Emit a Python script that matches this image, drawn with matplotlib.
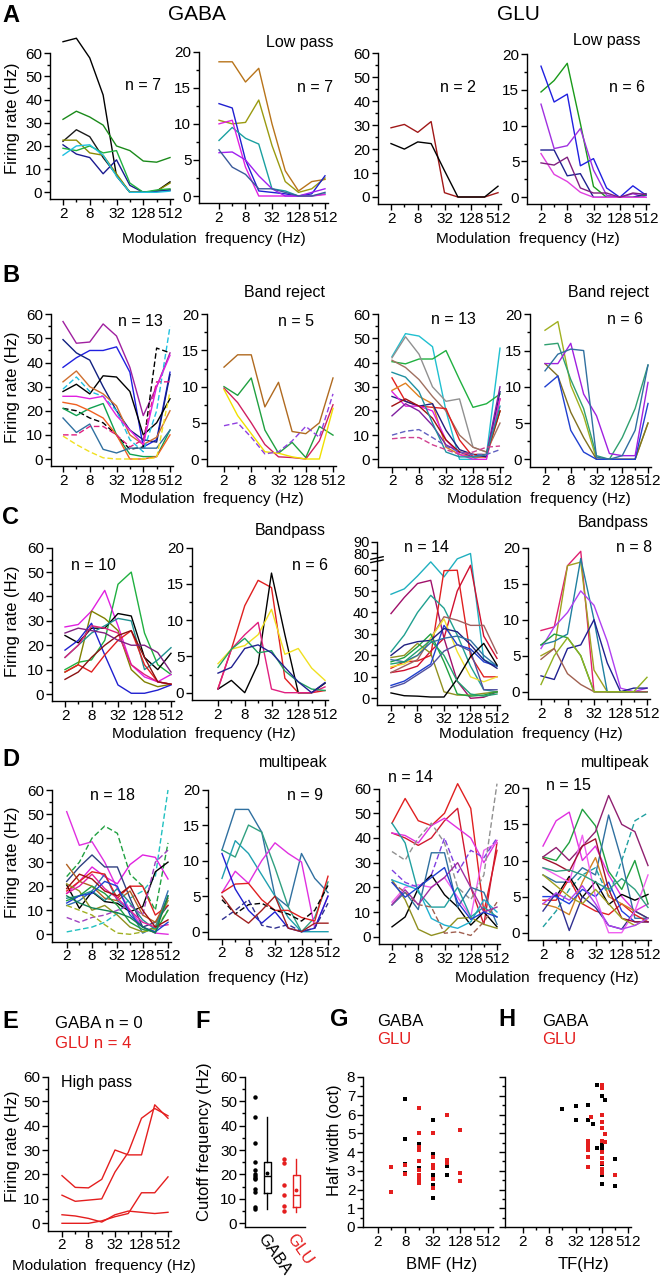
import numpy as np
import matplotlib
matplotlib.use("Agg")
import matplotlib.pyplot as plt
from matplotlib.ticker import FixedLocator, FixedFormatter, NullFormatter
from matplotlib.scale import FuncScale

plt.rcParams['font.family'] = ['Liberation Sans', 'DejaVu Sans']
plt.rcParams['axes.linewidth'] = 1.0

# ---------------- data ----------------
freqs = [2, 4, 8, 16, 32, 64, 128, 256, 512]
major_freqs = [2, 8, 32, 128, 512]
minor_freqs = [4, 16, 64, 256]

# A: low pass
a_gaba_big = [[65, 66.5, 58, 42, 7, 0, 0, 0.5, 4.5],
              [31.5, 35, 32.5, 29, 20, 18, 13.5, 13, 15],
              [22, 27, 24, 15, 7.5, 0, 0, 0.5, 1],
              [22.5, 22.5, 17, 16, 8, 0, 0, 0.5, 4],
              [20.5, 16.5, 15, 8, 14, 3, 0, 0.5, 1],
              [19, 18, 20, 17, 18, 4, 0, 1, 1.5],
              [16, 20, 20.5, 16, 7, 0, 0, 0, 0.5]]
a_gaba_big_col = ['#000000', '#1a8a1a', '#1a1a1a', '#8a8a00', '#1a1a90', '#20b040', '#20c0e0']
a_gaba_small = [[18.6, 18.6, 15.8, 17.7, 10, 3.5, 0.7, 2, 2.3],
                [10.5, 10, 10.2, 13.3, 7, 2, 0.5, 1, 2.5],
                [12.8, 12.2, 5, 0.7, 0.5, 0.3, 0, 0.3, 2.8],
                [7.7, 9.5, 8, 7.2, 1, 0.7, 0, 0, 0.3],
                [10, 10.5, 4, 0, 0, 0, 0, 0, 0.2],
                [6, 6.1, 5, 2.8, 1, 0, 0, 0.5, 1],
                [6.4, 4, 3, 1, 1, 0.5, 0, 0, 0.5]]
a_gaba_small_col = ['#b8741a', '#9a9a10', '#1f1fd0', '#1aa0a0', '#e020e0', '#a020f0', '#3a5a9a']
a_glu_big = [[28.9, 30.3, 27, 31.5, 1.8, 0, 0, 0, 1.8],
             [22.3, 20, 23, 22.3, 11, 0, 0, 0, 4.5]]
a_glu_big_col = ['#a01818', '#000000']
a_glu_small = [[14.7, 16.3, 18.7, 10.3, 1.5, 0, 0, 0, 0.3],
               [18.3, 13.3, 14.4, 4.4, 5.4, 1.3, 0, 1.6, 0.3],
               [13, 6.8, 7.2, 9.6, 3.8, 0.3, 0, 0.5, 0],
               [6.6, 6.6, 3, 3.3, 0, 0, 0, 0, 0.5],
               [6.1, 3.2, 2.2, 0.7, 0, 0, 0, 0, 0],
               [4.8, 4.5, 5.6, 1.3, 0.6, 0.6, 0, 0.6, 0.4]]
a_glu_small_col = ['#1a9a1a', '#2020e0', '#a030e0', '#202090', '#e040e0', '#802080']

# B: band reject
b_gaba_big = [[57, 48, 48.5, 56, 51, 38, 18, 30, 44],
              [38, 42, 45, 45, 46.5, 36, 5, 8, 36],
              [49.5, 44, 41, 30, 20, 12, 8, 7, 35],
              [28, 31, 27, 34.5, 34, 28, 10, 15, 25],
              [32, 36.5, 30, 27, 22, 10, 6, 9, 20],
              [29, 34, 28, 26, 20, 8, 3, 20, 55],
              [21, 20, 17, 15, 10, 4, 5, 46, 44],
              [21, 18, 21, 23, 10, 2, 1, 1, 12],
              [23.5, 22.5, 20, 17, 10, 0, 0, 1, 10],
              [17, 11, 14.5, 4, 2.5, 4.5, 4.5, 4.5, 12],
              [10, 10, 13.5, 13.5, 10, 5, 8, 32, 32],
              [9.5, 6, 3, 0.5, 0, 0, 0, 0.5, 28],
              [26, 26, 25, 26, 18, 12, 6, 30, 43]]
b_gaba_big_col = ['#a020a0', '#2020e0', '#102080', '#000000', '#d07030', '#20c0e0', '#000000',
                  '#10a050', '#f06020', '#3070a0', '#e02080', '#f0e020', '#e020e0']
b_gaba_big_dash = [0, 0, 0, 0, 0, 1, 1, 0, 0, 0, 1, 1, 0]
b_gaba_small = [[12.7, 14.4, 14.4, 7.2, 10.6, 3.8, 3.5, 5, 11.2],
                [10, 8.8, 11.2, 4, 0.8, 2.3, 0.2, 4.5, 3.3],
                [9.8, 7.8, 5, 2, 0.3, 0.2, 0, 2.5, 7.5],
                [9.6, 6, 3.5, 1, 0.8, 0.3, 0, 0, 7],
                [4.6, 5, 3, 0.7, 1, 2.5, 4.5, 3, 9]]
b_gaba_small_col = ['#b06a20', '#20a040', '#d02060', '#f0e000', '#9040e0']
b_gaba_small_dash = [0, 0, 0, 0, 1]
b_glu_big = [[42.5, 52, 51, 46.6, 20, 0, 0, 2, 46],
             [40.4, 39.5, 41.5, 41.5, 45, 33, 21.5, 23, 27],
             [42, 50.7, 43.5, 30, 24, 25, 5, 3, 20],
             [41, 38, 33, 26, 20, 10, 5, 3, 15],
             [33.7, 24, 22, 21.5, 21, 8, 1, 1, 25],
             [28.5, 31.5, 26, 23, 5, 2, 1, 1, 20],
             [26, 24, 22, 23, 12, 4, 2, 1, 28],
             [28, 22, 22, 20, 8, 2, 0, 0, 25],
             [18, 23, 20, 14, 6, 3, 1, 2, 30],
             [22, 25, 22, 17, 8, 3, 2, 2, 20],
             [36, 34, 28, 15, 3, 1, 1, 2, 22],
             [10, 11.6, 12.3, 9, 5.5, 3, 2, 2, 4],
             [8.5, 9, 9, 6, 4, 2, 3, 5, 5.5]]
b_glu_big_col = ['#20c0d0', '#20b040', '#909090', '#a07060', '#e02020', '#e08020', '#202080',
                 '#e020e0', '#8020a0', '#a01010', '#2090a0', '#6060c0', '#d04090']
b_glu_big_dash = [0, 0, 0, 0, 0, 0, 0, 0, 0, 0, 0, 1, 1]
b_glu_small = [[17.8, 19, 10.2, 6, 0, 0, 0, 0, 5],
               [15.8, 16, 11, 7, 0.5, 0, 3, 7, 13],
               [13.2, 11.5, 6.5, 3, 0, 0, 0, 0, 5],
               [10, 11.5, 4, 1, 0, 0, 0, 0, 7.7],
               [13.2, 13.2, 16, 9, 6, 0.8, 0.5, 0.5, 10.6],
               [12.2, 14.5, 15.2, 15, 0.3, 0, 0.5, 4, 13]]
b_glu_small_col = ['#a0b020', '#30a070', '#807020', '#2040d0', '#a020e0', '#3070a0']

# C: bandpass
c_gaba_big = [[10, 13, 14, 22, 45, 50, 25, 12, 8],
              [27.5, 28.5, 34, 42.5, 28, 12, 7, 5, 8],
              [9, 12, 34, 31, 26, 10, 5, 3, 4],
              [24, 21, 27, 27, 33, 32, 15, 10, 16.7],
              [15, 20, 25, 28, 31, 30, 10, 14, 19],
              [18, 22, 29, 16, 3.7, 0.3, 0.3, 1.6, 3.7],
              [9, 12, 9, 16, 22, 26, 12, 5, 4],
              [15, 20, 28, 27, 25, 12, 8, 5, 4],
              [6, 9, 15, 20, 24, 26, 15, 5, 4],
              [25, 27, 26, 25, 22, 20, 20, 17, 9]]
c_gaba_big_col = ['#20b040', '#e020e0', '#808000', '#000000', '#209090', '#2020d0', '#e02020',
                  '#e0207e', '#8b1010', '#802080']
c_gaba_small = [[0.6, 6, 12, 15.5, 14.5, 2, 0, 0, 0.3],
                [0.5, 1.7, 0, 4, 16.5, 8, 0, 0, 1.3],
                [4, 6, 6.5, 8, 11.5, 5.3, 6.1, 3.4, 1.7],
                [0.5, 6, 8, 9.7, 0.5, 0, 0, 0, 0.8],
                [3.5, 6, 7.5, 5.5, 5.8, 3, 1.5, 0.5, 0.3],
                [2.7, 3.5, 6.1, 6.6, 5.5, 3.5, 1.5, 0, 1.4]]
c_gaba_small_col = ['#e02020', '#000000', '#f0e020', '#e02080', '#20a060', '#202090']
c_glu_big = [[48.5, 51, 57, 63.6, 56.6, 65, 80, 18, 15],
             [39.5, 47, 53.5, 55, 28, 8, 0, 0.5, 3],
             [14, 17, 17.4, 20, 59.5, 59.7, 20, 10, 10],
             [12, 13, 15, 22, 28, 50, 62, 29, 18.6],
             [21.7, 29.5, 40, 48, 42, 29.5, 15, 4, 3],
             [12, 15, 18, 28, 38, 36.4, 34, 34, 21],
             [14.7, 16, 20, 28, 37, 21.7, 10, 7.7, 10],
             [19, 20, 25.6, 21, 3, 1.5, 1.5, 2.3, 3],
             [17, 19, 24, 30, 17, 2, 1, 1.5, 3],
             [6, 8, 12, 16, 34, 25, 23, 17, 15],
             [20, 24.8, 26.4, 27, 32.5, 31, 25, 18, 14],
             [18, 17, 20, 26, 28, 29, 27, 20, 15],
             [5, 7, 11, 15, 22, 25, 22, 4, 4],
             [2.5, 1.2, 1, 0.6, 0.6, 9, 19.4, 25.6, 15.5],
             [16, 17, 22, 27, 20, 8, 2, 1, 2]]
c_glu_big_col = ['#20b0c0', '#a0106a', '#e02020', '#d01030', '#20a090', '#a06060', '#f0e030',
                 '#909020', '#20a040', '#2040d0', '#202080', '#3070a0', '#5050a0', '#000000', '#20a070']
c_glu_small = [[8.5, 9, 17.5, 19.5, 0, 0, 0, 0, 0],
               [5, 6, 17.5, 18, 3, 0, 0, 0, 0],
               [6.5, 7, 8, 18.5, 10, 0, 0, 0, 0],
               [6, 9, 11, 14, 12, 7, 0.5, 0, 0.5],
               [2.2, 1.7, 6, 6.5, 10, 4, 0, 0.5, 0.5],
               [6.5, 8, 7.5, 5, 0, 0, 0, 0, 0],
               [4.5, 6, 2.5, 1, 0, 0, 0, 0, 0],
               [1, 5, 7.5, 5, 0, 0, 0, 0, 2]]
c_glu_small_col = ['#e02070', '#a0a020', '#2080a0', '#b040f0', '#202090', '#20a040', '#a06050', '#90b020']

# D: multipeak
d_gaba_big = [[51, 37, 38.5, 30, 19, 10, 3, 0.5, 0],
              [17, 22, 28, 24, 21, 29, 33, 32, 23],
              [24, 30, 40, 45, 42, 25, 20, 10, 38],
              [1, 2, 3, 5, 8.7, 15, 18, 24, 60],
              [20.5, 10.8, 17.7, 13.6, 12.9, 9.4, 11.5, 26, 30],
              [22, 28, 33, 28, 28, 15, 3, 5, 12],
              [12, 14, 18, 25, 14, 10, 0.5, 3, 18],
              [18, 22, 26, 25, 15, 20, 20, 8, 12],
              [29, 22, 20, 15, 14, 18, 8, 5, 15],
              [21, 18, 10, 12, 8, 3, 1, 3, 14],
              [15, 16, 18, 14, 19, 13, 6, 2, 16],
              [7, 5, 7, 8, 10, 12, 8, 30, 35],
              [12, 10, 8, 4, 0.5, 0, 1, 2, 10],
              [17, 20, 25, 19, 15, 10, 5, 3, 4],
              [14, 16, 20, 17, 12, 5, 2, 1, 10],
              [19, 25, 23, 18, 16, 20, 10, 3, 6],
              [13, 16, 17, 22, 20, 8, 3, 1, 5],
              [16, 13, 11, 10, 9, 7, 3, 0.5, 16]]
d_gaba_big_col = ['#e030e0', '#e020e0', '#20a040', '#20c0c0', '#000000', '#304080', '#3070b0',
                  '#e02020', '#b06020', '#909020', '#209090', '#a040c0', '#a0b020', '#e020a0',
                  '#20a040', '#a01010', '#2040d0', '#108050']
d_gaba_big_dash = [0, 0, 1, 1, 0, 0, 0, 0, 0, 0, 0, 1, 1, 0, 0, 0, 0, 0]
d_gaba_small = [[11.5, 17.2, 17.2, 14, 5, 3.5, 11, 7.5, 5.5],
                [11.5, 10.5, 15, 14, 9, 3.5, 0, 2, 7],
                [7.5, 12.8, 11, 8, 5, 2, 0, 0, 0],
                [5.5, 8.5, 6.8, 10, 12.5, 11, 9.8, 0.5, 5],
                [5.5, 6.7, 6.8, 4.5, 3, 3, 2, 1.5, 7.8],
                [11, 6, 3, 1.2, 2.8, 0.5, 0, 0.5, 5],
                [4.5, 2.5, 3.8, 4, 3, 2.5, 1.5, 3, 6.5],
                [1.7, 3, 4.5, 0.9, 0.5, 1, 0, 0.5, 4],
                [5, 2.5, 1.2, 3, 5, 0.5, 0, 1.2, 1.2]]
d_gaba_small_col = ['#3070a0', '#30a080', '#20a0b0', '#e030e0', '#e02020', '#2020d0', '#000000',
                    '#303090', '#a02020']
d_gaba_small_dash = [0, 0, 0, 0, 0, 0, 1, 1, 0]
d_glu_big = [[46, 56, 47, 45, 50, 62, 52, 10, 35],
             [42, 40, 37, 40, 47, 52, 20, 5, 38],
             [42, 41, 38, 45, 48, 44, 40, 30, 39],
             [14, 20, 21, 20, 24, 16, 8, 35, 38],
             [34.5, 31, 40, 46, 38, 20, 15, 25, 62],
             [27, 22, 20, 25, 40, 26, 35, 32, 40],
             [4, 8, 19.6, 25, 17, 12, 4.7, 10, 4],
             [23, 15, 3, 0.5, 2, 7.4, 7.8, 5, 3.4],
             [12.8, 18, 11, 34, 34, 12, 20, 18, 5],
             [23, 21, 19, 7.4, 4.7, 3.4, 6, 15, 10],
             [46, 38, 18, 12, 12, 20, 8, 12, 8],
             [22, 18, 13, 12, 1.4, 2, 0.5, 6, 14],
             [13, 19, 13, 20, 24, 30, 20, 10, 12],
             [22, 16, 20, 24, 28, 14, 7, 10, 8]]
d_glu_big_col = ['#e02020', '#d01830', '#e030e0', '#f060f0', '#909090', '#8040e0', '#000000',
                 '#909020', '#3070a0', '#20b0d0', '#20a0a0', '#a06050', '#a030a0', '#2040d0']
d_glu_big_dash = [0, 0, 0, 0, 1, 1, 0, 0, 0, 0, 0, 1, 0, 0]
d_glu_small = [[12, 15.5, 16.7, 10, 12, 8, 5, 3, 4],
               [10.5, 10, 12.5, 17.1, 14.8, 8.5, 6, 10, 4],
               [10.5, 11.8, 10, 12, 14, 19, 15, 14, 9.3],
               [8, 7, 7, 9, 8, 16.3, 10, 2, 2],
               [0.8, 3, 6, 8, 9, 5, 10, 15.5, 16.6],
               [6.4, 5, 7.8, 4.9, 7.1, 3.9, 5.3, 4.5, 5.3],
               [4.5, 4.5, 7.5, 4, 3, 2.5, 4, 2.5, 1.5],
               [4, 3.5, 2.5, 7, 10.4, 5, 4, 3, 2],
               [3, 5.5, 0.3, 5, 3.5, 1, 0.5, 3, 2],
               [5, 5, 4, 6, 5, 7, 3, 1.5, 1.5],
               [9, 8, 7, 13.5, 5, 0, 0, 3, 8],
               [10.3, 9.5, 8.5, 12, 13, 6, 2, 1.5, 1.5],
               [8, 6.5, 5, 4, 6, 4, 2, 1, 2],
               [9, 8.5, 8.7, 8, 7, 6, 7.5, 6, 3.5],
               [4, 5.5, 4.5, 6.5, 4, 1, 0.5, 1, 2]]
d_glu_small_col = ['#e030e0', '#20a040', '#902070', '#3070a0', '#20a0a0', '#000000', '#e02020',
                   '#d08020', '#303090', '#2040e0', '#f060f0', '#a01030', '#a0a020', '#30a080', '#b040f0']
d_glu_small_dash = [0, 0, 0, 0, 1, 0, 0, 0, 0, 0, 0, 0, 0, 0, 0]

# E: high pass (GLU only)
e_glu = [[19.5, 14.7, 14.5, 18, 30, 28, 28, 48.5, 43],
         [11.5, 9, 9.5, 10, 21, 29, 43, 47, 44],
         [3.5, 3, 2, 0.5, 3.5, 5, 4.5, 4, 4.5],
         [0, 0, 0, 1, 2.7, 4, 12.5, 12.5, 19]]

# F: cutoff frequencies
f_groups = ['GABA', 'GLU']
f_gaba_cutoff = [51.5, 43.5, 33, 25, 22, 20, 19.5, 18.5, 18, 14, 13, 6.5, 6]
f_glu_cutoff = [26.5, 24.5, 15.5, 11.5, 7, 5]
f_gaba_box = dict(whislo=6, q1=12.3, med=19.3, q3=25, whishi=43.5, mean=20.5)
f_glu_box = dict(whislo=4.5, q1=6.5, med=11.6, q3=19.8, whishi=26.5, mean=13.6)

# G: half width vs BMF
g_gaba_bmf = [8, 8, 8, 8, 16, 16, 16, 16, 32, 32, 32, 32, 32, 64, 64]
g_gaba_hw = [6.84, 4.67, 3.34, 2.88, 4.44, 4.23, 3.16, 3.06, 5.72, 3.87, 2.76, 2.22, 1.56, 3.23, 2.76]
g_glu_bmf = [4, 4, 8, 8, 16, 16, 16, 16, 16, 16, 16, 16, 16, 32, 32, 32, 32, 32, 32,
             64, 64, 64, 128, 128, 128]
g_glu_hw = [3.2, 1.87, 3.29, 2.84, 6.36, 5.0, 4.27, 4.1, 3.52, 3.06, 2.79, 2.58, 2.35,
            5.0, 3.73, 3.29, 3.16, 2.58, 2.1, 6.0, 3.59, 3.41, 5.19, 2.88, 2.45]

# H: half width vs TF
h_gaba_tf = [15.4, 32, 32, 62, 62, 81, 97, 97, 128, 148, 128, 128, 128, 128, 128, 128, 256, 256]
h_gaba_hw = [6.31, 6.44, 5.69, 6.49, 5.72, 5.51, 4.23, 7.59, 6.97, 6.79, 4.36, 4.2, 3.38, 3.1,
             2.75, 2.3, 3.64, 2.19]
h_glu_tf = [62, 62, 62, 62, 62, 62, 73, 128, 128, 128, 128, 128, 128, 128, 128, 128, 128, 128,
            148, 148, 256]
h_glu_hw = [4.6, 4.44, 4.27, 4.1, 3.73, 3.2, 5.87, 7.55, 7.4, 6.0, 5.6, 5.3, 4.6, 4.0, 3.7, 3.4,
            3.1, 2.9, 4.98, 4.53, 2.79]

RED = '#e41e1e'

# ---------------- layout helpers ----------------
W, H = 667, 1280
fig = plt.figure(figsize=(W / 100, H / 100), dpi=100)


def px_box(left, top, right, bottom):
    return [left / W, 1 - bottom / H, (right - left) / W, (bottom - top) / H]


def ftext(x, y, s, **kw):
    kw.setdefault('ha', 'center')
    kw.setdefault('va', 'center')
    fig.text(x / W, 1 - y / H, s, **kw)


def style_axes(ax):
    for side in ('top', 'right'):
        ax.spines[side].set_visible(False)
    ax.tick_params(which='major', length=4, width=1, labelsize=11, pad=1.5)
    ax.tick_params(which='minor', length=2.5, width=1)


def freq_axis(ax, x2, x512, spine, right):
    ppo = (x512 - x2) / 8
    ax.set_xscale('log', base=2)
    ax.set_xlim(2 ** (1 - (x2 - spine) / ppo), 2 ** (9 + (right - x512) / ppo))
    ax.xaxis.set_major_locator(FixedLocator(major_freqs))
    ax.xaxis.set_major_formatter(FixedFormatter([str(f) for f in major_freqs]))
    ax.xaxis.set_minor_locator(FixedLocator(minor_freqs))
    ax.xaxis.set_minor_formatter(NullFormatter())


def rate_panel(geom, rates, colors, dashed=None, ymax=60):
    x2, x512, spine, top, zero = geom
    right = x512 + 3
    ppu = (zero - top) / ymax
    pad = ymax * 0.05
    ax = fig.add_axes(px_box(spine, top, right, zero + pad * ppu))
    style_axes(ax)
    freq_axis(ax, x2, x512, spine, right)
    ax.set_ylim(-pad, ymax)
    step = ymax / 6 if ymax == 60 else 5
    ax.yaxis.set_major_locator(FixedLocator(np.arange(0, ymax + 0.1, step)))
    ax.yaxis.set_minor_locator(FixedLocator(np.arange(step / 2, ymax, step)))
    if dashed is None:
        dashed = [0] * len(rates)
    for vals, c, d in zip(rates, colors, dashed):
        ax.plot(freqs, vals, color=c, lw=1.0, clip_on=False,
                linestyle=(0, (4, 2)) if d else '-')
    return ax


# ---------------- row A ----------------
rate_panel((63, 170, 50, 53.3, 192.3), a_gaba_big, a_gaba_big_col)
rate_panel((219, 325, 199, 51.7, 196), a_gaba_small, a_gaba_small_col, ymax=20)
rate_panel((391, 498, 378, 53.3, 197), a_glu_big, a_glu_big_col)
rate_panel((541, 646, 527, 54, 197.3), a_glu_small, a_glu_small_col, ymax=20)

# ---------------- row B ----------------
rate_panel((63, 170, 51, 314.3, 459), b_gaba_big, b_gaba_big_col, b_gaba_big_dash)
rate_panel((224, 333, 207, 314.3, 459), b_gaba_small, b_gaba_small_col, b_gaba_small_dash, ymax=20)
rate_panel((392, 500, 378, 314.3, 459.3), b_glu_big, b_glu_big_col, b_glu_big_dash)
rate_panel((545, 648, 530, 314.3, 459.3), b_glu_small, b_glu_small_col, ymax=20)

# ---------------- row C ----------------
rate_panel((65, 171, 52, 547.7, 694), c_gaba_big, c_gaba_big_col)
rate_panel((218, 325, 192, 547.7, 692.7), c_gaba_small, c_gaba_small_col, ymax=20)

# broken-axis GLU bandpass panel
brk_in = [-10, 65, 80, 100]
brk_out = [-10, 65, 67.5, 78.5]


def brk_fwd(y):
    return np.interp(y, brk_in, brk_out)


def brk_inv(y):
    return np.interp(y, brk_out, brk_in)


c3_top_t = brk_fwd(90)
c3_ppu = (698.3 - 541.7) / c3_top_t
ax = fig.add_axes(px_box(377, 541.7, 500, 698.3 + 3 * c3_ppu))
style_axes(ax)
freq_axis(ax, 391, 497, 377, 500)
ax.set_yscale(FuncScale(ax, (brk_fwd, brk_inv)))
ax.set_ylim(-3, 90)
ax.yaxis.set_major_locator(FixedLocator([0, 10, 20, 30, 40, 50, 60, 80, 90]))
ax.yaxis.set_major_formatter(FixedFormatter(['0', '10', '20', '30', '40', '50', '60', '80', '90']))
ax.yaxis.set_minor_locator(FixedLocator(np.arange(5, 60, 10)))
ax.yaxis.set_minor_formatter(NullFormatter())
ax.tick_params(axis='y', labelsize=10.5)
for vals, c in zip(c_glu_big, c_glu_big_col):
    ax.plot(freqs, vals, color=c, lw=1.0, clip_on=False)
for yb in (0.88, 0.90):
    ax.plot([-0.05, 0.05], [yb - 0.008, yb + 0.008], transform=ax.transAxes,
            color='black', lw=1.0, clip_on=False)

rate_panel((541, 647, 528, 547.7, 691.7), c_glu_small, c_glu_small_col, ymax=20)

# ---------------- row D ----------------
rate_panel((66.7, 168, 52, 790, 934.3), d_gaba_big, d_gaba_big_col, d_gaba_big_dash)
rate_panel((222, 328, 208, 789.5, 931.7), d_gaba_small, d_gaba_small_col, d_gaba_small_dash, ymax=20)
rate_panel((392, 497, 379, 788.6, 936.7), d_glu_big, d_glu_big_col, d_glu_big_dash)
rate_panel((543, 648, 528, 788.3, 932.7), d_glu_small, d_glu_small_col, d_glu_small_dash, ymax=20)

# ---------------- row E ----------------
rate_panel((62, 168, 48, 1076.7, 1223.3), e_glu, [RED] * len(e_glu))

# ---------------- F: box plot ----------------
f_ppu = (1223.3 - 1076.7) / 60
ax = fig.add_axes(px_box(245, 1076.7, 305, 1223.3 + 1.4 * f_ppu))
style_axes(ax)
ax.set_ylim(-1.4, 60)
ax.set_xlim(-0.55, 1.52)
ax.yaxis.set_major_locator(FixedLocator(np.arange(0, 61, 10)))
ax.yaxis.set_minor_locator(FixedLocator(np.arange(5, 60, 10)))
cats = np.arange(len(f_groups))
for ci, (vals, stats, c) in enumerate(zip([f_gaba_cutoff, f_glu_cutoff],
                                         [f_gaba_box, f_glu_box], ['black', RED])):
    ax.plot([cats[ci] - 0.2] * len(vals), vals, 'o', ms=2.2, color=c, clip_on=False)
    ax.bxp([dict(stats, fliers=[])], positions=[cats[ci] + 0.22], widths=0.26,
           showcaps=False, showmeans=True, showfliers=False,
           boxprops=dict(color=c, lw=1.0), whiskerprops=dict(color=c, lw=1.0),
           medianprops=dict(color=c, lw=1.0),
           meanprops=dict(marker='o', ms=1.8, markerfacecolor=c, markeredgecolor=c))
ax.set_xticks(cats)
ax.set_xticklabels(f_groups, rotation=-55, ha='left', va='center', rotation_mode='anchor',
                   fontsize=12)
ax.get_xticklabels()[1].set_color(RED)
ax.tick_params(axis='x', length=0, pad=6)

# ---------------- G and H: scatter ----------------
for gx, gh, rx, rh, geom, labels in [
        (g_gaba_bmf, g_gaba_hw, g_glu_bmf, g_glu_hw, (377.5, 488, 363, 493), True),
        (h_gaba_tf, h_gaba_hw, h_glu_tf, h_glu_hw, (522.7, 628.3, 505, 631), False)]:
    x2, x512, spine, right = geom
    ax = fig.add_axes(px_box(spine, 1077, right, 1227))
    style_axes(ax)
    freq_axis(ax, x2, x512, spine, right)
    ax.set_ylim(0, 8)
    ax.yaxis.set_major_locator(FixedLocator(np.arange(0, 9)))
    ax.yaxis.set_minor_locator(FixedLocator(np.arange(0.5, 8, 1)))
    if not labels:
        ax.yaxis.set_major_formatter(NullFormatter())
    ax.plot(gx, gh, 's', ms=3.3, color='black', mew=0, clip_on=False)
    ax.plot(rx, rh, 's', ms=3.3, color=RED, mew=0, clip_on=False)

# ---------------- figure text ----------------
for letter, x, y in [('A', 2, 15), ('B', 2, 275), ('C', 2, 517), ('D', 2, 760),
                     ('E', 2, 1021), ('F', 195, 1021), ('G', 330, 1020), ('H', 498, 1020)]:
    ftext(x, y, letter, ha='left', fontsize=17, fontweight='bold')

ftext(197, 15, 'GABA', fontsize=15)
ftext(518, 15, 'GLU', fontsize=15)

for s, x, y in [('Low pass', 300, 42), ('Low pass', 607, 40),
                ('Band reject', 285, 293), ('Band reject', 608, 293),
                ('Bandpass', 290, 530), ('Bandpass', 613, 523),
                ('multipeak', 293, 763), ('multipeak', 615, 762)]:
    ftext(x, y, s, fontsize=11.5)

for s, x, y in [('n = 7', 143, 85), ('n = 7', 315, 87), ('n = 2', 458, 88), ('n = 6', 627, 87),
                ('n = 13', 140, 322), ('n = 5', 296, 322), ('n = 13', 453, 320), ('n = 6', 625, 320),
                ('n = 10', 93, 565), ('n = 6', 310, 565), ('n = 14', 427, 548), ('n = 8', 634, 548),
                ('n = 18', 112, 795), ('n = 9', 305, 795), ('n = 14', 410, 777), ('n = 15', 568, 785)]:
    ftext(x, y, s, fontsize=11.5)

for x, y in [(214, 239), (528, 239), (212, 499), (539, 499), (204, 734), (531, 734),
             (217, 978), (547, 978), (104, 1266)]:
    ftext(x, y, 'Modulation  frequency (Hz)', fontsize=11)

for y in [118, 387, 621, 862, 1146]:
    ftext(13, y, 'Firing rate (Hz)', rotation=90, fontsize=12)

ftext(55, 1023, 'GABA n = 0', ha='left', fontsize=12)
ftext(55, 1043, 'GLU n = 4', ha='left', fontsize=12, color=RED)
ftext(61, 1083, 'High pass', ha='left', fontsize=11.5)
ftext(205, 1142, 'Cutoff frequency (Hz)', rotation=90, fontsize=12)
ftext(334, 1140, 'Half width (oct)', rotation=90, fontsize=12)
ftext(377, 1021, 'GABA', ha='left', fontsize=12)
ftext(377, 1040, 'GLU', ha='left', fontsize=12, color=RED)
ftext(542, 1021, 'GABA', ha='left', fontsize=12)
ftext(542, 1040, 'GLU', ha='left', fontsize=12, color=RED)
ftext(442, 1265, 'BMF (Hz)', fontsize=12)
ftext(583, 1265, 'TF(Hz)', fontsize=12)

fig.savefig('out.png', dpi=100)
